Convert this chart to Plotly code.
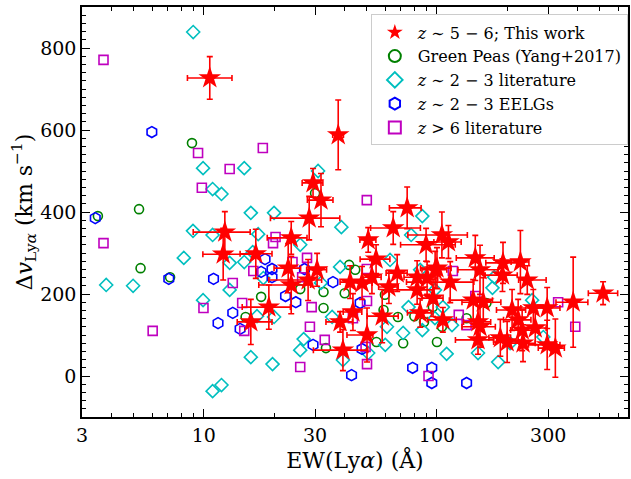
import numpy as np
import plotly.graph_objects as go

# ---- z~5-6 this work (red stars with error bars) ----
star_ew = [10.6, 37.7, 29.4, 31.8, 28.3, 23.7, 23.0, 23.7, 12.3, 12.1, 16.7, 19.0, 15.9,
           30.6, 28.0, 38.4, 39.5, 43.6, 50.1, 50.7, 42.4, 47.7, 52.6, 54.8, 58.2, 62.2,
           64.9, 67.5, 74.5, 82.2, 82.2, 84.7, 89.8, 96.2, 100, 105, 112, 106, 114, 146,
           153, 192, 228, 191, 244, 143, 158, 210, 259, 297, 384, 516, 150, 223, 264, 150,
           187, 200, 234, 297, 322, 232, 153, 90.7, 98.2]
star_dv = [727, 588, 471, 429, 385, 337, 263, 222, 351, 297, 298, 168, 132,
           259, 234, 132, 63, 156, 100, 332, 229, 227, 241, 285, 146, 217,
           361, 251, 410, 241, 210, 154, 320, 190, 263, 344, 327, 137, 229, 288,
           259, 276, 278, 246, 234, 185, 180, 161, 166, 166, 180, 202, 132, 137, 117, 88,
           93, 83, 80, 76, 68, 112, 120, 239, 259]
star_ew_lo = [2.1, 2, 3, 4, 9, 5, 3, 6.5, 3.3, 2.2, 2.4, 4.4, 2.0,
              3, 9, 5, 10, 4, 9, 4, 4, 5, 5, 8, 8, 6,
              13, 7, 12, 10, 20, 10, 20, 10, 15, 30, 15, 15, 40, 25,
              30, 30, 20, 30, 20, 30, 30, 30, 30, 40, 60, 70, 20, 30, 30, 30,
              20, 25, 30, 50, 50, 25, 25, 10, 12]
star_ew_hi = [2.6, 2, 3, 4, 10, 4, 3, 5, 3.5, 4.2, 2.9, 4.5, 3.7,
              3, 4, 5, 11, 4, 3, 4, 4, 5, 5, 8, 10, 6,
              20, 7, 11, 10, 15, 10, 30, 10, 15, 30, 15, 15, 30, 30,
              30, 40, 20, 30, 50, 30, 30, 30, 40, 40, 60, 80, 20, 30, 30, 25,
              20, 25, 30, 40, 30, 25, 25, 10, 12]
star_dv_err = [52, 85, 35, 65, 53, 40, 60, 70, 50, 63, 60, 54, 55,
               40, 50, 25, 50, 45, 66, 30, 40, 40, 40, 35, 65, 40,
               40, 45, 51, 40, 35, 35, 40, 45, 50, 56, 40, 30, 50, 55,
               60, 50, 77, 40, 35, 50, 60, 50, 45, 50, 110, 28, 40, 50, 40, 35,
               45, 50, 45, 60, 71, 50, 50, 40, 45]

# ---- Green Peas (Yang+2017) ----
gp_ew = [8.89, 3.51, 5.27, 5.35, 7.16, 17.6, 15.1, 25.9, 30, 32.6, 32.6, 33.4, 42, 44.6,
         40.2, 59.8, 59, 68, 71.6, 55, 80, 88, 100, 105, 134, 96, 163]
gp_dv = [568, 390, 407, 263, 241, 193, 144, 212, 446, 205, 166, 68, 271, 259,
         202, 198, 161, 144, 80, 83, 146, 132, 83, 120, 141, 168, 178]

# ---- z~2-3 literature ----
lit_ew = [9.0, 9.92, 10.9, 11.9, 14.9, 15.9, 20.0, 8.98, 10.9, 17.1, 8.2, 12.9, 14.9, 16.2,
          4.97, 12.9, 9.92, 18.0, 16.9, 20.0, 15.9, 19.7, 10.9, 11.9, 25.9, 26.8, 25.9,
          30.9, 38.9, 38.4, 31.8, 62.9, 86.5, 77.5, 35.5, 61, 71.6, 39.5, 50.7, 60, 75.5,
          86.5, 106, 116, 110, 98, 84.7, 98, 150, 176, 173, 256, 183, 206, 286, 3.81]
lit_dv = [839, 507, 456, 444, 507, 398, 398, 354, 344, 346, 288, 276, 278, 302,
          220, 210, 185, 239, 146, 144, 46, 29, -37, -22, 320, 90, 63,
          500, 363, 266, 227, 283, 390, 344, 144, 120, 105, 39, 56, 76, 168,
          112, 168, 124, 54, 210, 259, 141, 56, 241, 215, 185, 34, 80, 95, 222]

# ---- z~2-3 EELGs ----
eelg_ew = [5.98, 3.42, 7.07, 11.0, 13.3, 11.5, 14.3, 18.3, 17.6, 19.6, 19.6, 22.4, 24.8,
           27, 35.8, 46.8, 29.4, 47.7, 43, 78.6, 95, 95, 134]
eelg_dv = [595, 385, 237, 237, 154, 129, 115, 285, 254, 261, 241, 195, 180,
           261, 229, 178, 76, 66, 2, 20, 20, -17, -17]

# ---- z>6 literature ----
hz_ew = [3.71, 9.44, 17.9, 12.9, 9.8, 3.71, 6.03, 20.3, 19.8, 16.3, 13.3, 9.96, 14.6, 14.9,
         24, 27.7, 26.4, 25.9, 28.5, 50, 29.0, 33, 50, 50.1, 43.6, 49.4, 50.1, 92,
         124, 134, 117, 146, 331, 392]
hz_dv = [771, 544, 556, 505, 459, 324, 110, 339, 324, 256, 227, 166, 178, 110,
         278, 288, 241, 22, 120, 429, 168, 88, 261, 183, 141, 71, 29, 0,
         149, 124, 256, 195, 180, 120]

x_ticks = [3, 10, 30, 100, 300]
x_minor = [4, 5, 6, 7, 8, 9, 20, 40, 50, 60, 70, 80, 90, 200, 400, 500, 600]
y_ticks = [0, 200, 400, 600, 800]

FONT = "DejaVu Serif"
fig = go.Figure()

def hollow(x, y, sym, color, name, rank, size=9):
    fig.add_trace(go.Scatter(
        x=x, y=y, mode="markers", name=name, legendrank=rank,
        marker=dict(symbol=sym, size=size, color=color,
                    line=dict(color=color, width=1.6))))

hollow(gp_ew, gp_dv, "circle-open", "#008000", "Green Peas (Yang+2017)", 2, 9)
hollow(lit_ew, lit_dv, "diamond-open", "#00BFBF", "<i>z</i> ∼ 2 − 3 literature", 3, 10)
hollow(eelg_ew, eelg_dv, "hexagon-open", "#0000FF", "<i>z</i> ∼ 2 − 3 EELGs", 4, 11)
hollow(hz_ew, hz_dv, "square-open", "#BF00BF", "<i>z</i> > 6 literature", 5, 9)

fig.add_trace(go.Scatter(
    x=star_ew, y=star_dv, mode="markers", name="<i>z</i> ∼ 5 − 6; This work", legendrank=1,
    marker=dict(symbol="star", size=17, color="#FF0000", line=dict(width=0)),
    error_x=dict(type="data", symmetric=False, array=star_ew_hi, arrayminus=star_ew_lo,
                 color="#FF0000", thickness=1.6, width=3),
    error_y=dict(type="data", array=star_dv_err, color="#FF0000", thickness=1.6, width=3)))

axis_common = dict(showline=True, linecolor="black", linewidth=1.5, mirror="ticks",
                   ticks="inside", ticklen=8, tickwidth=1.2, tickcolor="black",
                   showgrid=False, zeroline=False, automargin=False,
                   tickfont=dict(family=FONT, size=19, color="black"))

fig.update_xaxes(type="log", range=[np.log10(3), np.log10(660)],
                 tickmode="array", tickvals=x_ticks, ticktext=[str(t) for t in x_ticks],
                 minor=dict(tickmode="array", tickvals=x_minor, ticks="inside", ticklen=4,
                            tickwidth=1, tickcolor="black", showgrid=False),
                 title=dict(text="EW(Ly<i>α</i>) (Å)", font=dict(family=FONT, size=22, color="black"),
                            standoff=8),
                 **axis_common)
fig.update_yaxes(range=[-100, 900], tickmode="array", tickvals=y_ticks,
                 minor=dict(dtick=20, ticks="inside", ticklen=4, tickwidth=1,
                            tickcolor="black", showgrid=False),
                 title=dict(text="Δ<i>v</i><sub>Ly<i>α</i></sub> (km s<sup>−1</sup>)",
                            font=dict(family=FONT, size=22, color="black"), standoff=0),
                 **axis_common)

fig.update_layout(
    width=631, height=479,
    margin=dict(l=82, r=3, t=7, b=62, autoexpand=False),
    paper_bgcolor="white", plot_bgcolor="white",
    font=dict(family=FONT, color="black"),
    legend=dict(x=0.529, y=0.982, xanchor="left", yanchor="top",
                bgcolor="white", bordercolor="#CCCCCC", borderwidth=1,
                font=dict(family=FONT, size=16, color="black"),
                itemsizing="constant", itemwidth=36),
    showlegend=True,
)

fig.write_html("out.html")
